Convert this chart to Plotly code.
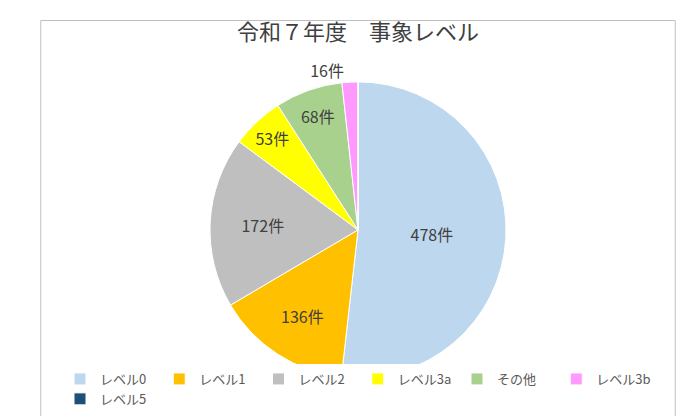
import plotly.graph_objects as go

labels = ["レベル0", "レベル1", "レベル2", "レベル3a", "その他", "レベル3b", "レベル5"]
values = [478, 136, 172, 53, 68, 16, 0]
colors = ["#BDD7EE", "#FFC000", "#BFBFBF", "#FFFF00", "#A9D18E", "#FF99FF", "#1F4E79"]
texts = [f"{v}件" if v else "" for v in values]
positions = ["inside"] * 5 + ["outside", "inside"]

fig = go.Figure(go.Pie(
    labels=labels, values=values, text=texts, textinfo="text",
    textposition=positions, sort=False, direction="clockwise", rotation=0,
    marker=dict(colors=colors, line=dict(color="white", width=1)),
    textfont=dict(size=16, color="#404040"),
    insidetextorientation="horizontal",
    domain=dict(x=[0.1, 0.9], y=[0.1, 0.92]),
    hoverinfo="label+value",
))

fig.update_layout(
    width=700, height=416,
    font=dict(family="Noto Sans CJK JP", color="#595959"),
    title=dict(text="令和７年度　事象レベル", x=0.5, y=0.96, xanchor="center",
               font=dict(size=22, color="#404040")),
    legend=dict(orientation="h", x=0.5, xanchor="center", y=0.0, yanchor="bottom",
                itemwidth=30, tracegroupgap=0,
                font=dict(size=13, color="#595959")),
    margin=dict(l=15, r=15, t=45, b=10),
    paper_bgcolor="white",
    shapes=[dict(type="rect", xref="paper", yref="paper", x0=-0.015, x1=1.015,
                 y0=-0.02, y1=1.09, line=dict(color="#BFBFBF", width=1))],
)

fig.write_html("out.html")
